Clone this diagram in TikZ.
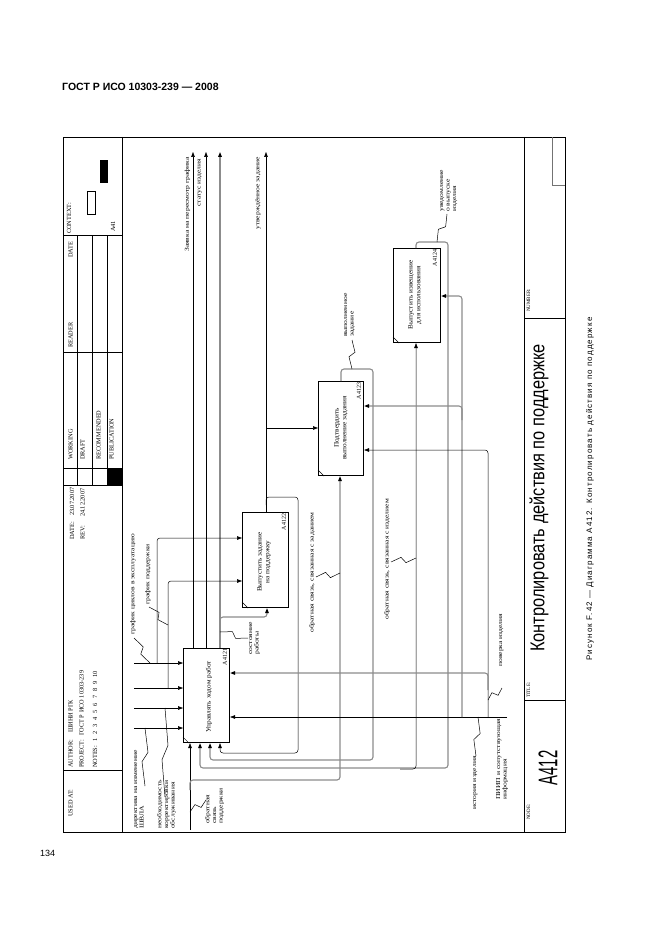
\documentclass[tikz,border=0pt]{standalone}
\usepackage{fontspec}
\setmainfont{Liberation Sans}
\newfontfamily\lser{Liberation Serif}
\newfontfamily\lbf[FakeStretch=1.27]{Liberation Serif}
\newfontfamily\bxf[FakeStretch=1.1]{Liberation Serif}
\newfontfamily\capfont[LetterSpace=14]{Liberation Sans}
\usetikzlibrary{arrows.meta,calc}
\newcommand\sqz[2]{\draw[ln] (#1) -- ($(#1)!0.42!(#2)!3pt!90:(#2)$) -- ($(#1)!0.58!(#2)!3pt!-90:(#2)$) -- (#2);}
\begin{document}
\begin{tikzpicture}[x=1pt,y=-1pt,
  ln/.style={line width=0.5pt},
  gl/.style={line width=1.1pt, draw=black!45},
  arr/.style={-{Triangle[length=5pt,width=3.6pt,color=black]}},
  fr/.style={line width=0.7pt},
  thinl/.style={line width=0.4pt},
  boxn/.style={draw, line width=1.1pt, inner sep=0pt, anchor=north west},
  lab/.style={rotate=90, font=\lbf\fontsize{6}{6.6}\selectfont, inner sep=0pt, align=left, anchor=north west},
  hd/.style={rotate=90, font=\lser\fontsize{6.3}{7}\selectfont, inner sep=0pt, anchor=west},
  btx/.style={rotate=90, font=\bxf\fontsize{6.6}{7.6}\selectfont, inner sep=0pt, align=center},
  idt/.style={rotate=90, font=\lser\fontsize{6}{6.5}\selectfont, inner sep=0pt},
  rc/.style={rounded corners=3pt}
]
\fill[white] (0,0) rectangle (661,936);
\useasboundingbox (0,0) rectangle (661,936);

% page texts
\node[anchor=west, inner sep=0pt, font=\bfseries\fontsize{10.5}{12}\selectfont] (hdr) at (62,87) {ГОСТ Р ИСО 10303-239 — 2008};
\node[anchor=west, inner sep=0pt, font=\fontsize{9}{10}\selectfont] (pg) at (40,853) {134};
\node[rotate=90, inner sep=0pt, font=\capfont\fontsize{8}{9}\selectfont] (cap) at (590,489) {Рисунок F.42 — Диаграмма A412. Контролировать действия по поддержке};

% frame
\draw[fr] (63,137) rectangle (565,832);
\draw[fr] (122,137) -- (122,832);
\draw[fr] (524,137) -- (524,832);
% header grid
\draw[thinl] (63,235) -- (122,235);
\draw[thinl] (63,352) -- (122,352);
\draw[thinl] (63,485) -- (122,485);
\draw[thinl] (63,770) -- (122,770);
\draw[thinl] (63,468) -- (122,468);
\draw[thinl] (77,235) -- (77,485);
\draw[thinl] (92,235) -- (92,485);
\draw[thinl] (107,235) -- (107,485);
\fill (107,469) rectangle (122,485);
\draw[thinl] (87,191) rectangle (95,214);
\fill (100,160) rectangle (108,183);
% header texts
\node[hd] (usedat) at (70.5,817) {USED AT:};
\node[hd] (author) at (70.5,768) {AUTHOR:\hspace{7pt}ШИНИ РГК};
\node[hd] (project) at (81.5,768) {PROJECT:\hspace{4pt}ГОСТ Р ИСО 10303-239};
\node[hd] (notes) at (95,768) {NOTES:\hspace{4pt}1\hspace{4pt}2\hspace{4pt}3\hspace{4pt}4\hspace{4pt}5\hspace{4pt}6\hspace{4pt}7\hspace{4pt}8\hspace{4pt}9\hspace{4pt}10};
\node[hd] (date1) at (72,540) {DATE:\hspace{6pt}23.07.2007};
\node[hd] (rev) at (82.5,540) {REV:\hspace{9pt}24.12.2007};
\node[hd] (working) at (70.5,460) {WORKING};
\node[hd] (draft) at (82.5,460) {DRAFT};
\node[hd] (recom) at (98.5,460) {RECOMMENDED};
\node[hd] (publ) at (111.5,460) {PUBLICATION};
\node[hd] (reader) at (70.5,348) {READER};
\node[hd] (date2) at (70.5,258) {DATE};
\node[hd] (context) at (69,234) {CONTEXT:};
\node[hd] (a41) at (113,232) {A41};
% footer
\draw[thinl] (524,700) -- (565,700);
\draw[thinl] (524,318) -- (565,318);
\draw[thinl, black!55] (552,137) -- (552,185) -- (565,185);
\node[hd, font=\lser\fontsize{5}{6}\selectfont] (node) at (528.5,820) {NODE:};
\node[hd, font=\lser\fontsize{5}{6}\selectfont] (title) at (528.5,698) {TITLE:};
\node[hd, font=\lser\fontsize{5}{6}\selectfont] (number) at (528.5,312) {NUMBER:};
\node[rotate=90, inner sep=0pt] (a412) at (548,768) {\scalebox{0.55}[1]{\fontsize{27}{28}\selectfont A412}};
\node[rotate=90, inner sep=0pt] (ttl) at (539,498) {\scalebox{0.82}[1]{\fontsize{20}{22}\selectfont Контролировать действия по поддержке}};

% boxes
\node[boxn, minimum width=46pt, minimum height=94pt] (b1) at (183,648) {};
\node[boxn, minimum width=46pt, minimum height=95pt] (b2) at (242,512) {};
\node[boxn, minimum width=45pt, minimum height=94pt] (b3) at (318,381) {};
\node[boxn, minimum width=47pt, minimum height=94pt] (b4) at (393,248) {};
\foreach \b in {b1,b2,b3,b4}{\draw[ln] ($(\b.south west)+(0,-6)$) -- ($(\b.south west)+(6,0)$);}
\node[btx] (t1) at (209,697) {Управлять ходом работ};
\node[btx] (t2) at (264,562) {Выпустить задание\\на поддержку};
\node[btx] (t3) at (341,428) {Подтвердить\\выполнение задания};
\node[btx] (t4) at (415,295) {Выпустить извещение\\для использования};
\node[idt] (i1) at (225,657) {A4121};
\node[idt] (i2) at (284,522) {A4122};
\node[idt] (i3) at (359,391) {A4123};
\node[idt] (i4) at (435,258) {A4124};

% outputs to top
\draw[ln,arr] (b1.north -| 193,0) -- (193,152);
\draw[ln,arr] (b1.north -| 206,0) -- (206,152);
\draw[gl,arr] (b1.north -| 220,0) -- (220,152);
\draw[gl,arr,rc] (220,630) -- (220,617) -- (267,617) -- (b2.south -| 267,0);
\draw[ln,arr] (b2.north -| 266,0) -- (266,152);
\draw[ln,arr,rc] (266,505) -- (266,497) -- (298,497) -- (298,753) -- (220,753) -- (b1.south -| 220,0);
\draw[ln,arr] (266,428) -- (b3.west |- 0,428);
% A4123 output
\draw[gl,arr,rc] (b3.north -| 341,0) -- (341,369) -- (373,369) -- (373,760) -- (210,760) -- (b1.south -| 210,0);
% A4124 output
\draw[gl,arr,rc] (b4.north -| 416,0) -- (416,242) -- (448,242) -- (448,768) -- (200,768) -- (b1.south -| 200,0);
\draw[ln,arr,rc] (400,769) -- (416,769) -- (b4.south -| 416,0);
% inputs
\draw[ln,arr] (190,830) -- (b1.south -| 190,0);
\draw[gl,arr,rc] (190,790) -- (190,780) -- (340,780) -- (b3.south -| 340,0);
% controls
\draw[ln,arr] (134,663) -- (b1.west |- 0,663);
\draw[ln,arr,rc] (157,663) -- (157,538) -- (b2.west |- 0,538);
\draw[ln,arr] (134,688) -- (b1.west |- 0,688);
\draw[ln,arr,rc] (168,688) -- (168,581) -- (b2.west |- 0,581);
\draw[ln,arr] (134,708) -- (b1.west |- 0,708);
\draw[ln,arr] (134,728) -- (b1.west |- 0,728);
% mechanisms
\draw[ln,arr] (507,717) -- (b1.east |- 0,717);
\draw[gl,arr,rc] (462,717) -- (462,296) -- (b4.east |- 0,296);
\draw[gl,arr,rc] (462,420) -- (462,406) -- (b3.east |- 0,406);
\draw[ln,arr,rc] (488,717) -- (488,450) -- (b3.east |- 0,450);
\draw[gl,arr,rc] (488,690) -- (488,673) -- (b1.east |- 0,673);

% labels
\node[lab] (l1) at (184.5,252) {Заявка на пересмотр графика};
\node[lab] (l2) at (197.5,207) {статус изделия};
\node[lab] (l3) at (255.5,230) {утверждённое задание};
\node[lab] (l4) at (249,655) {состояние\\работы};
\node[lab] (l5) at (344,337) {выполненное\\задание};
\node[lab] (l6) at (440,212) {уведомление\\о выпуске\\изделия};
\node[lab] (l7) at (309,633) {обратная связь, связанная с заданием};
\node[lab] (l8) at (384,620) {обратная связь, связанная с изделием};
\node[lab] (l9) at (496,800) {ПИИП и сопутствующая\\информация};
\node[lab] (l10) at (473,810) {история изделия};
\node[lab] (l11) at (499,667) {поверка изделия};
\node[lab] (l12) at (130,635) {график циклов в эксплуатацию};
\node[lab] (l13) at (145,605) {график поддержки};
\node[lab] (l14) at (134,829) {директива на изменение\\ШВЛА};
\node[lab] (l15) at (157,829) {необходимость\\корректировки\\обслуживания};
\node[lab] (l16) at (205,824) {обратная\\связь\\поддержки};

% squiggles
\sqz{248,638}{220,632}
\sqz{352,340}{352,369}
\sqz{447,214}{437,242}
\sqz{316,577}{340,573}
\sqz{391,562}{416,558}
\sqz{476,756}{478,717}
\sqz{502,688}{488,700}
\sqz{134,638}{150,663}
\sqz{149,607}{168,625}
\sqz{145,786}{145,728}
\sqz{165,797}{165,708}
\sqz{206,800}{190,812}
\end{tikzpicture}
\end{document}
